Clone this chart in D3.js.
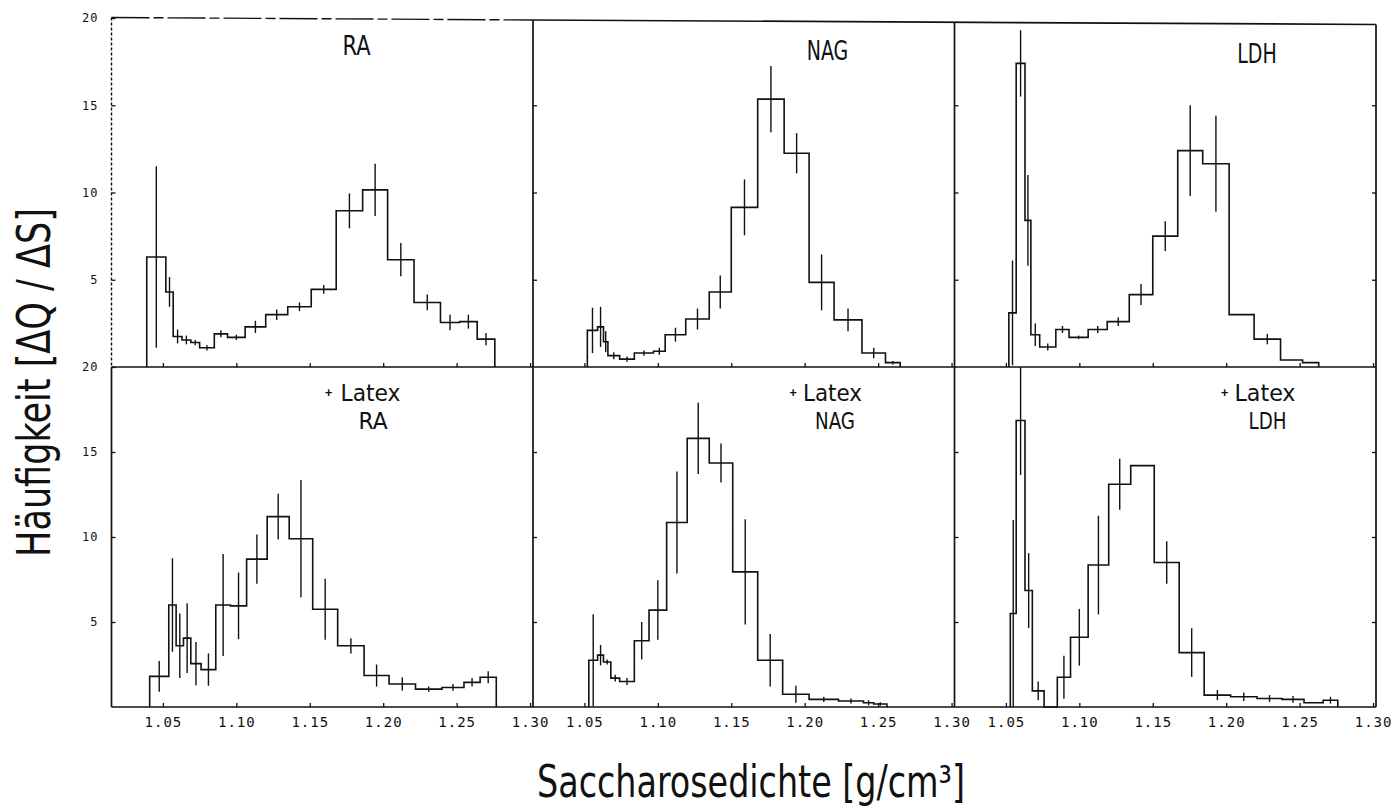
<!DOCTYPE html>
<html>
<head>
<meta charset="utf-8">
<script src="https://cdn.jsdelivr.net/npm/d3@7"></script>
<style>
  html, body { margin: 0; padding: 0; background: #fff; }
  svg { display: block; }
</style>
</head>
<body>
<svg id="chart" width="1393" height="808"></svg>
<script>
// Sucrose density gradient profiles: bin edges (g/cm3), relative frequency per bin
// and half-length of the error bar drawn at each bin centre.

// Top row: native fractions
const raEdges  = [1.039, 1.052, 1.057, 1.063, 1.069, 1.075, 1.085, 1.094, 1.106, 1.120, 1.135, 1.151, 1.168, 1.186, 1.203, 1.221, 1.239, 1.252, 1.264, 1.276];
const raValues = [6.3, 4.3, 1.75, 1.55, 1.4, 1.1, 1.9, 1.7, 2.3, 3.0, 3.45, 4.45, 8.95, 10.15, 6.15, 3.7, 2.55, 2.6, 1.6];
const raErrors = [5.2, 0.85, 0.4, 0.25, 0.15, 0.15, 0.2, 0.15, 0.35, 0.3, 0.25, 0.25, 1.0, 1.5, 0.95, 0.45, 0.45, 0.4, 0.35];

const nagEdges  = [1.052, 1.059, 1.063, 1.066, 1.074, 1.084, 1.097, 1.105, 1.119, 1.135, 1.150, 1.168, 1.186, 1.203, 1.220, 1.239, 1.255, 1.265];
const nagValues = [2.1, 2.3, 1.45, 0.65, 0.45, 0.8, 0.9, 1.85, 2.75, 4.3, 9.15, 15.35, 12.25, 4.85, 2.7, 0.8, 0.25];
const nagErrors = [1.3, 1.15, 0.6, 0.2, 0.15, 0.15, 0.2, 0.4, 0.6, 0.95, 1.6, 1.9, 1.15, 1.6, 0.65, 0.3, 0.1];

const ldhEdges  = [1.052, 1.057, 1.063, 1.067, 1.073, 1.084, 1.093, 1.106, 1.119, 1.134, 1.150, 1.167, 1.184, 1.202, 1.219, 1.237, 1.252, 1.263];
const ldhValues = [3.1, 17.4, 8.4, 1.85, 1.15, 2.15, 1.7, 2.15, 2.6, 4.15, 7.5, 12.4, 11.65, 3.0, 1.6, 0.4, 0.25];
const ldhErrors = [3.0, 1.9, 2.6, 0.65, 0.2, 0.2, 0.1, 0.2, 0.25, 0.6, 0.85, 2.6, 2.75, 0, 0.3, 0, 0];

// Bottom row: fractions after latex loading
const raLatexEdges  = [1.041, 1.054, 1.059, 1.064, 1.069, 1.076, 1.086, 1.096, 1.107, 1.121, 1.136, 1.152, 1.169, 1.187, 1.204, 1.222, 1.240, 1.255, 1.266, 1.277];
const raLatexValues = [1.8, 6.0, 3.6, 4.05, 2.55, 2.2, 6.0, 5.95, 8.7, 11.2, 9.9, 5.75, 3.6, 1.85, 1.35, 1.05, 1.15, 1.45, 1.75];
const raLatexErrors = [0.9, 2.75, 1.9, 2.05, 1.27, 0.95, 3.0, 1.96, 1.45, 1.35, 3.45, 1.8, 0.45, 0.65, 0.4, 0.15, 0.2, 0.25, 0.36];

const nagLatexEdges  = [1.053, 1.059, 1.063, 1.068, 1.074, 1.084, 1.094, 1.106, 1.120, 1.135, 1.151, 1.168, 1.185, 1.203, 1.223, 1.240, 1.247, 1.256];
const nagLatexValues = [2.75, 3.05, 2.65, 1.7, 1.5, 3.9, 5.7, 10.85, 15.8, 14.35, 7.95, 2.75, 0.75, 0.45, 0.35, 0.25, 0.18];
const nagLatexErrors = [2.7, 0.6, 0.15, 0.2, 0.2, 1.1, 1.75, 3.0, 2.1, 1.15, 3.1, 1.55, 0.5, 0.15, 0.15, 0.15, 0.1];

const ldhLatexEdges  = [1.053, 1.057, 1.063, 1.068, 1.076, 1.085, 1.094, 1.106, 1.120, 1.135, 1.151, 1.168, 1.185, 1.203, 1.221, 1.238, 1.253, 1.266, 1.276];
const ldhLatexValues = [5.5, 16.85, 6.85, 0.95, 0, 1.75, 4.1, 8.35, 13.1, 14.2, 8.5, 3.2, 0.7, 0.6, 0.5, 0.45, 0.25, 0.4];
const ldhLatexErrors = [5.5, 3.2, 2.2, 0.55, 0, 1.27, 1.67, 2.9, 1.5, 0, 1.25, 1.43, 0.3, 0.25, 0.2, 0.2, 0, 0.2];

// Axis ticks and labels
const densityTicks = [1.05, 1.10, 1.15, 1.20, 1.25, 1.30];
const frequencyTicks = [5, 10, 15];
const frequencyLabels = [5, 10, 15, 20];
const enzymeNames = ["RA", "NAG", "LDH"];
const latexLabel = "Latex";
const xTitle = "Saccharosedichte [g/cm³]";
const yTitle = "Häufigkeit [ΔQ / ΔS]";

// ---------------------------------------------------------------------------
// Layout
const svg = d3.select("#chart");
const panelW = 421.5;
const colLeft = [111.5, 533, 954.5];
const rows = [
  { top: 18, bottom: 367 },
  { top: 367, bottom: 707 }
];
const densityDomain = [1.015, 1.302];

const panels = [
  { row: 0, col: 0, edges: raEdges, values: raValues, errors: raErrors },
  { row: 0, col: 1, edges: nagEdges, values: nagValues, errors: nagErrors },
  { row: 0, col: 2, edges: ldhEdges, values: ldhValues, errors: ldhErrors },
  { row: 1, col: 0, edges: raLatexEdges, values: raLatexValues, errors: raLatexErrors },
  { row: 1, col: 1, edges: nagLatexEdges, values: nagLatexValues, errors: nagLatexErrors },
  { row: 1, col: 2, edges: ldhLatexEdges, values: ldhLatexValues, errors: ldhLatexErrors }
];

// caption placement within each column (offset from the column's left edge)
const topLabelPlace = [
  { cx: 245, y: 55, w: 28 },
  { cx: 294.5, y: 59.5, w: 41.5 },
  { cx: 302.5, y: 62.5, w: 39.5 }
];
const bottomLabelPlace = [
  { bx: 217, lx: 229, lw: 60, nx: 261.5, nw: 29 },
  { bx: 260, lx: 270, lw: 59, nx: 302, nw: 40 },
  { bx: 270, lx: 280, lw: 61, nx: 313, nw: 38 }
];

const labelFont = "'Liberation Sans Narrow', 'DejaVu Sans Condensed', 'DejaVu Sans', sans-serif";
const tickFont = "'DejaVu Sans Mono', 'Liberation Mono', monospace";
const ink = "#111";

const g = svg.append("g");

panels.forEach(p => {
  const left = colLeft[p.col];
  const r = rows[p.row];
  const x = d3.scaleLinear().domain(densityDomain).range([left, left + panelW]);
  const y = d3.scaleLinear().domain([0, 20]).range([r.bottom, r.top]);
  const pg = g.append("g");

  // step histogram
  const pts = [[p.edges[0], 0]];
  p.values.forEach((v, i) => pts.push([p.edges[i], v]));
  pts.push([p.edges[p.edges.length - 1], 0]);
  const line = d3.line().x(d => x(d[0])).y(d => y(d[1])).curve(d3.curveStepAfter);
  pg.append("path")
    .attr("d", line(pts))
    .attr("fill", "none")
    .attr("stroke", ink)
    .attr("stroke-width", 1.6)
    .attr("stroke-linejoin", "miter");

  // error bars at bin centres
  const bars = p.values.map((v, i) => ({
    c: (p.edges[i] + p.edges[i + 1]) / 2, v: v, e: p.errors[i]
  })).filter(d => d.e > 0);
  pg.selectAll("line.err").data(bars).join("line")
    .attr("class", "err")
    .attr("x1", d => x(d.c)).attr("x2", d => x(d.c))
    .attr("y1", d => y(Math.min(20, d.v + d.e)))
    .attr("y2", d => y(Math.max(0, d.v - d.e)))
    .attr("stroke", ink)
    .attr("stroke-width", 1.4);

  // inward ticks on the density axis
  const xAxis = d3.axisBottom(x).tickValues(densityTicks)
    .tickSizeInner(-4).tickSizeOuter(0).tickPadding(10)
    .tickFormat(p.row === 1 ? d3.format(".2f") : "");
  const xa = pg.append("g").attr("transform", `translate(0,${r.bottom})`).call(xAxis);
  xa.select(".domain").remove();
  xa.selectAll(".tick line").attr("stroke", ink).attr("stroke-width", 1.3);
  xa.selectAll(".tick text")
    .attr("font-family", tickFont)
    .attr("font-size", 14)
    .attr("letter-spacing", 1)
    .attr("fill", ink);

  // inward ticks on the left edge of each panel
  const yAxis = d3.axisLeft(y).tickValues(p.col === 0 ? frequencyLabels : frequencyTicks)
    .tickSizeInner(-4).tickSizeOuter(0).tickPadding(13)
    .tickFormat(p.col === 0 ? d3.format("d") : "");
  const ya = pg.append("g").attr("transform", `translate(${left},0)`).call(yAxis);
  ya.select(".domain").remove();
  ya.selectAll(".tick line").attr("stroke", ink).attr("stroke-width", 1.3);
  ya.selectAll(".tick text")
    .attr("font-family", tickFont)
    .attr("font-size", 12)
    .attr("letter-spacing", 1)
    .attr("fill", ink);

  // right-hand ticks on the outer frame
  if (p.col === 2) {
    const yr = d3.axisRight(y).tickValues(frequencyTicks)
      .tickSizeInner(-4).tickSizeOuter(0).tickFormat("");
    const ra = pg.append("g").attr("transform", `translate(${left + panelW},0)`).call(yr);
    ra.select(".domain").remove();
    ra.selectAll(".tick line").attr("stroke", ink).attr("stroke-width", 1.3);
  }

  // panel captions
  if (p.row === 0) {
    const lp = topLabelPlace[p.col];
    pg.append("text")
      .attr("x", left + lp.cx - lp.w / 2).attr("y", lp.y)
      .attr("textLength", lp.w).attr("lengthAdjust", "spacingAndGlyphs")
      .attr("font-family", labelFont).attr("font-size", 27)
      .attr("fill", ink)
      .text(enzymeNames[p.col]);
  } else {
    const lp = bottomLabelPlace[p.col];
    pg.append("text")
      .attr("x", left + lp.bx).attr("y", 397)
      .attr("text-anchor", "middle")
      .attr("font-family", tickFont).attr("font-size", 12).attr("font-weight", "bold")
      .attr("fill", ink)
      .text("+");
    pg.append("text")
      .attr("x", left + lp.lx).attr("y", 401)
      .attr("textLength", lp.lw).attr("lengthAdjust", "spacingAndGlyphs")
      .attr("font-family", labelFont).attr("font-size", 23)
      .attr("fill", ink)
      .text(latexLabel);
    pg.append("text")
      .attr("x", left + lp.nx - lp.nw / 2).attr("y", 429)
      .attr("textLength", lp.nw).attr("lengthAdjust", "spacingAndGlyphs")
      .attr("font-family", labelFont).attr("font-size", 23)
      .attr("fill", ink)
      .text(enzymeNames[p.col]);
  }
});

// frame: outer box, row divider and column dividers
const frame = g.append("g").attr("stroke", ink).attr("stroke-width", 1.7).attr("fill", "none");
const xRight = colLeft[2] + panelW;
// top edge (faint, broken plotter stroke over the first panel)
frame.append("line")
  .attr("x1", colLeft[0]).attr("y1", 17.5).attr("x2", colLeft[1]).attr("y2", 20)
  .attr("stroke-dasharray", "38,4,10,4").attr("stroke-width", 1.4);
frame.append("line")
  .attr("x1", colLeft[1]).attr("y1", 20).attr("x2", xRight).attr("y2", 24.5);
// left edge, dotted on the upper panel
frame.append("line")
  .attr("x1", colLeft[0]).attr("y1", 17.5).attr("x2", colLeft[0]).attr("y2", rows[0].bottom)
  .attr("stroke-dasharray", "3,2").attr("stroke-width", 1.4);
frame.append("line")
  .attr("x1", colLeft[0]).attr("y1", rows[1].top).attr("x2", colLeft[0]).attr("y2", rows[1].bottom);
// column dividers and right edge
[colLeft[1], colLeft[2], xRight].forEach((cx, i) => {
  const yTop = [20, 22.5, 24.5][i];
  frame.append("line").attr("x1", cx).attr("x2", cx).attr("y1", yTop).attr("y2", rows[1].bottom);
});
// row divider and bottom edge
frame.append("line").attr("x1", colLeft[0]).attr("x2", xRight).attr("y1", rows[0].bottom).attr("y2", rows[0].bottom);
frame.append("line").attr("x1", colLeft[0]).attr("x2", xRight).attr("y1", rows[1].bottom).attr("y2", rows[1].bottom);

// axis titles
svg.append("text")
  .attr("x", 537).attr("y", 797)
  .attr("textLength", 428).attr("lengthAdjust", "spacingAndGlyphs")
  .attr("font-family", labelFont).attr("font-size", 44)
  .attr("fill", ink)
  .text(xTitle);

svg.append("text")
  .attr("transform", "translate(50,557) rotate(-90)")
  .attr("x", 0).attr("y", 0)
  .attr("textLength", 349).attr("lengthAdjust", "spacingAndGlyphs")
  .attr("font-family", labelFont).attr("font-size", 46)
  .attr("fill", ink)
  .text(yTitle);
</script>
</body>
</html>
